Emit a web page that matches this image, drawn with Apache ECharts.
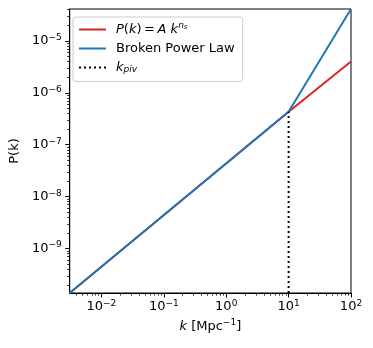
<!DOCTYPE html>
<html>
<head>
<meta charset="utf-8">
<script src="https://cdn.jsdelivr.net/npm/echarts@6/dist/echarts.min.js"></script>
<style>
  html, body { margin: 0; padding: 0; background: #fff; }
  #chart { width: 373px; height: 348px; }
</style>
</head>
<body>
<div id="chart"></div>
<script>
// axis range
var kMin = 3.1e-3
var kMax = 100
var pMin = 1.4e-10
var pMax = 4.1e-5

// P(k) = A k^ns
var powerK = [3.1e-3, 10, 100]
var powerP = [1.4e-10, 4.3e-7, 4.0e-6]

// broken power law
var brokenK = [3.1e-3, 10, 100]
var brokenP = [1.4e-10, 4.3e-7, 4.1e-5]

// pivot line
var kPiv = 10
var pivP = [1.4e-10, 4.3e-7]

var xMajor = [1e-2, 1e-1, 1, 10, 100]
var yMajor = [1e-9, 1e-8, 1e-7, 1e-6, 1e-5]

var minorTicks = function (lo, hi) {
  var out = []
  for (var e = -11; e <= 3; e++) {
    for (var m = 2; m <= 9; m++) {
      var v = m * Math.pow(10, e)
      if (v >= lo && v <= hi) out.push(v)
    }
  }
  return out
}

var font = 'DejaVu Sans'
var supStyle = { fontSize: 9, fontFamily: font, color: '#000', padding: [0, 0, 7, 0] }
var tickFmt = function (v) {
  var e = Math.round(Math.log10(v))
  return '10{sup|' + String(e).replace('-', '\u2212') + '}'
}

var pair = function (xs, ys) {
  return xs.map(function (x, i) { return [x, ys[i]] })
}

var chart = echarts.init(document.getElementById('chart'))
var option = {
  animation: false,
  grid: {
    left: 67, right: 22, top: 9, bottom: 55,
    show: true, borderColor: '#000', borderWidth: 1
  },
  legend: {
    left: 73, top: 17, orient: 'vertical',
    backgroundColor: 'rgba(255,255,255,0.8)',
    borderColor: '#cccccc', borderWidth: 1, borderRadius: 3,
    padding: [4, 8, 7, 5],
    itemWidth: 27, itemHeight: 14, itemGap: 6,
    itemStyle: { opacity: 0 },
    textStyle: {
      fontFamily: font, fontSize: 13, color: '#000', padding: [0, 0, 0, 5],
      rich: {
        i: { fontFamily: font, fontSize: 13, fontStyle: 'italic', color: '#000' },
        sup: { fontFamily: font, fontSize: 9, fontStyle: 'italic', color: '#000', padding: [0, 0, 8, 0] },
        ss: { fontFamily: font, fontSize: 7, fontStyle: 'italic', color: '#000', padding: [0, 0, 4, 0] },
        sub: { fontFamily: font, fontSize: 9, fontStyle: 'italic', color: '#000', padding: [5, 0, 0, 0] }
      }
    },
    formatter: function (name) {
      if (name === 'pk') return '{i|P}({i|k})\u2009=\u2009{i|A k}{sup|n}{ss|s}'
      if (name === 'piv') return '{i|k}{sub|piv}'
      return name
    },
    data: ['pk', 'Broken Power Law', 'piv']
  },
  xAxis: [
    {
      type: 'log', logBase: 10, min: kMin, max: kMax,
      name: '{i|k} [Mpc{sup|\u22121}]',
      nameLocation: 'middle', nameGap: 25,
      nameTextStyle: {
        fontFamily: font, fontSize: 13, color: '#000',
        rich: {
          i: { fontFamily: font, fontSize: 13, fontStyle: 'italic', color: '#000' },
          sup: supStyle
        }
      },
      axisLine: { show: true, lineStyle: { color: '#000', width: 1 } },
      axisTick: { show: true, length: 4.5, customValues: xMajor, lineStyle: { color: '#000' } },
      axisLabel: {
        customValues: xMajor, formatter: tickFmt, margin: 6,
        fontFamily: font, fontSize: 13, color: '#000',
        rich: { sup: supStyle }
      },
      splitLine: { show: false }
    },
    {
      type: 'log', logBase: 10, min: kMin, max: kMax, position: 'bottom',
      axisLine: { show: false },
      axisTick: { show: true, length: 2.6, customValues: minorTicks(kMin, kMax), lineStyle: { color: '#000', width: 0.8 } },
      axisLabel: { show: false },
      splitLine: { show: false }
    }
  ],
  yAxis: [
    {
      type: 'log', logBase: 10, min: pMin, max: pMax,
      name: 'P(k)', nameLocation: 'middle', nameGap: 42,
      nameTextStyle: { fontFamily: font, fontSize: 13, color: '#000' },
      axisLine: { show: true, lineStyle: { color: '#000', width: 1 } },
      axisTick: { show: true, length: 4.5, customValues: yMajor, lineStyle: { color: '#000' } },
      axisLabel: {
        customValues: yMajor, formatter: tickFmt, margin: 8,
        fontFamily: font, fontSize: 13, color: '#000',
        rich: { sup: supStyle }
      },
      splitLine: { show: false }
    },
    {
      type: 'log', logBase: 10, min: pMin, max: pMax, position: 'left',
      axisLine: { show: false },
      axisTick: { show: true, length: 2.6, customValues: minorTicks(pMin, pMax), lineStyle: { color: '#000', width: 0.8 } },
      axisLabel: { show: false },
      splitLine: { show: false }
    }
  ],
  series: [
    {
      name: 'pk', type: 'line', symbol: 'none', clip: true,
      data: pair(powerK, powerP),
      lineStyle: { color: '#d62728', width: 2 }, itemStyle: { color: '#d62728' }
    },
    {
      name: 'Broken Power Law', type: 'line', symbol: 'none', clip: true,
      data: pair(brokenK, brokenP),
      lineStyle: { color: '#1f77b4', width: 2 }, itemStyle: { color: '#1f77b4' }
    },
    {
      name: 'piv', type: 'line', symbol: 'none', clip: true,
      data: [[kPiv, pivP[0]], [kPiv, pivP[1]]],
      lineStyle: { color: '#000', width: 2, type: [2, 3] }, itemStyle: { color: '#000' }
    }
  ]
}
chart.setOption(option)
</script>
</body>
</html>
